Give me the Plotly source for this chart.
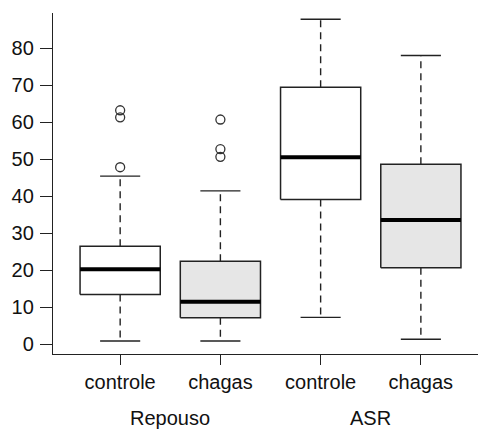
import plotly.graph_objects as go

# ---- data ----
positions = [1, 2, 3, 4]
tick_labels = ["controle", "chagas", "controle", "chagas"]
group_names = ["Repouso", "ASR"]
group_centers = [1.5, 3.5]
lower = [0.8, 0.8, 7.2, 1.3]
q1 = [13.4, 7.1, 39.1, 20.6]
median = [20.2, 11.4, 50.5, 33.5]
q3 = [26.4, 22.4, 69.4, 48.6]
upper = [45.4, 41.4, 87.8, 78.0]
outliers = [[47.8, 61.3, 63.2], [50.6, 52.7, 60.7], [], []]
fills = ["white", "#e6e6e6", "white", "#e6e6e6"]
y_ticks = [0, 10, 20, 30, 40, 50, 60, 70, 80]

# ---- style constants ----
BOX_HALF = 0.4
CAP_HALF = 0.2
EDGE = "#222222"
FONT = "Liberation Sans, Arial, sans-serif"

fig = go.Figure()

for i, x in enumerate(positions):
    # whiskers (dashed)
    fig.add_trace(go.Scatter(
        x=[x, x, None, x, x], y=[q3[i], upper[i], None, q1[i], lower[i]],
        mode="lines", line=dict(color=EDGE, width=1.4, dash="7px,5px"),
        hoverinfo="skip", showlegend=False))
    # caps
    fig.add_trace(go.Scatter(
        x=[x - CAP_HALF, x + CAP_HALF, None, x - CAP_HALF, x + CAP_HALF],
        y=[upper[i], upper[i], None, lower[i], lower[i]],
        mode="lines", line=dict(color=EDGE, width=1.4),
        hoverinfo="skip", showlegend=False))
    # box
    fig.add_trace(go.Scatter(
        x=[x - BOX_HALF, x + BOX_HALF, x + BOX_HALF, x - BOX_HALF, x - BOX_HALF],
        y=[q1[i], q1[i], q3[i], q3[i], q1[i]],
        mode="lines", fill="toself", fillcolor=fills[i],
        line=dict(color=EDGE, width=1.5),
        hoverinfo="skip", showlegend=False))
    # median
    fig.add_trace(go.Scatter(
        x=[x - BOX_HALF, x + BOX_HALF], y=[median[i], median[i]],
        mode="lines", line=dict(color="black", width=4),
        hoverinfo="skip", showlegend=False))
    # outliers
    if outliers[i]:
        fig.add_trace(go.Scatter(
            x=[x] * len(outliers[i]), y=outliers[i], mode="markers",
            marker=dict(symbol="circle-open", size=9, color="#333333",
                        line=dict(color="#333333", width=1.3)),
            hoverinfo="skip", showlegend=False))

for name, cx in zip(group_names, group_centers):
    fig.add_annotation(x=cx, y=0, xref="x", yref="paper", text=name,
                       showarrow=False, yanchor="middle", yshift=-64,
                       font=dict(family=FONT, size=20, color="#111111"))

fig.update_layout(
    width=478, height=430,
    margin=dict(l=53, r=0, t=13, b=76),
    paper_bgcolor="white", plot_bgcolor="white",
    font=dict(family=FONT, size=20, color="#111111"),
    xaxis=dict(range=[0.33, 4.57], tickvals=positions, ticktext=tick_labels,
               showgrid=False, zeroline=False, showline=True,
               linecolor=EDGE, linewidth=1.4, ticks="outside", ticklen=10,
               tickwidth=1.4, tickcolor=EDGE, fixedrange=True),
    yaxis=dict(range=[-2.7, 89.5], tickvals=y_ticks,
               showgrid=False, zeroline=False, showline=True,
               linecolor=EDGE, linewidth=1.4, ticks="outside", ticklen=12,
               tickwidth=1.4, tickcolor=EDGE, ticklabelstandoff=2,
               fixedrange=True),
)

fig.write_html("out.html")
